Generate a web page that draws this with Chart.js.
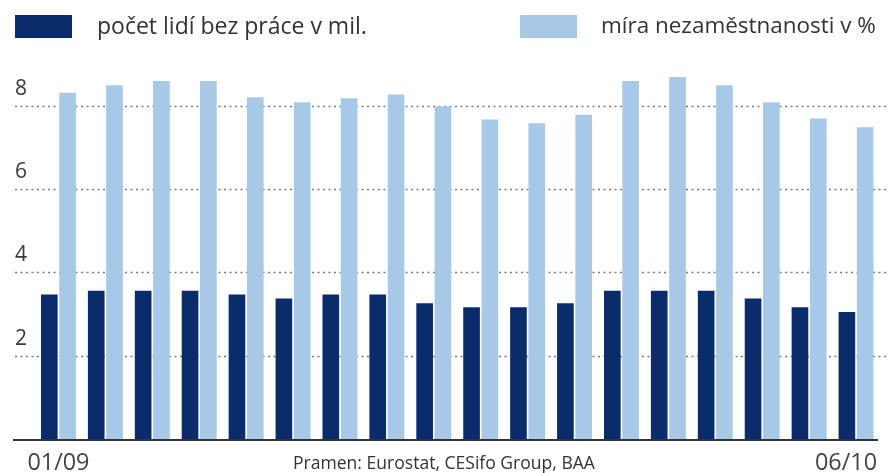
<!DOCTYPE html>
<html>
<head>
<meta charset="utf-8">
<script src="https://cdn.jsdelivr.net/npm/chart.js@4/dist/chart.umd.min.js"></script>
<style>
html,body{margin:0;padding:0;background:#fff;}
#wrap{width:888px;height:473px;position:relative;}
</style>
</head>
<body>
<div id="wrap"><canvas id="c" width="888" height="473"></canvas></div>
<script>
const categories = ["01/09","02/09","03/09","04/09","05/09","06/09","07/09","08/09","09/09","10/09","11/09","12/09","01/10","02/10","03/10","04/10","05/10","06/10"];
const unemployedMil = [3.47,3.56,3.56,3.56,3.47,3.37,3.47,3.47,3.26,3.16,3.16,3.26,3.56,3.56,3.56,3.37,3.16,3.05];
const unemploymentRate = [8.31,8.49,8.59,8.59,8.20,8.08,8.18,8.27,7.98,7.67,7.58,7.78,8.59,8.69,8.49,8.08,7.69,7.48];
const yTicks = [2,4,6,8];
const seriesNames = ["počet lidí bez práce v mil.","míra nezaměstnanosti v %"];
const sourceText = "Pramen: Eurostat, CESifo Group, BAA";

const DARK = "#0b2c6b";
const LIGHT = "#a8c8e8";
const FONT = "'Open Sans', 'DejaVu Sans', sans-serif";

function fitFont(ctx, text, width, base) {
  let size = base;
  ctx.font = size + "px " + FONT;
  const w = ctx.measureText(text).width;
  size = base * width / w;
  return size;
}

const decor = {
  id: 'decor',
  beforeDatasetsDraw(chart) {
    const ctx = chart.ctx;
    const y = chart.scales.y;
    ctx.save();
    ctx.strokeStyle = "#7a7a7a";
    ctx.lineWidth = 1.3;
    ctx.setLineDash([2, 3.5]);
    yTicks.forEach(v => {
      const py = Math.round(y.getPixelForValue(v)) + 0.5;
      ctx.beginPath();
      ctx.moveTo(15, py);
      ctx.lineTo(888, py);
      ctx.stroke();
    });
    ctx.setLineDash([]);
    ctx.fillStyle = "#3a3a3a";
    ctx.font = "21px " + FONT;
    ctx.textAlign = "left";
    ctx.textBaseline = "middle";
    yTicks.forEach(v => {
      const py = y.getPixelForValue(v);
      ctx.fillText(String(v), 15, py - 17);
    });
    ctx.restore();
  },
  afterDatasetsDraw(chart) {
    const ctx = chart.ctx;
    const y = chart.scales.y;
    const x = chart.scales.x;
    ctx.save();
    // baseline
    const by = y.getPixelForValue(0) + 1;
    ctx.strokeStyle = "#333";
    ctx.lineWidth = 1.8;
    ctx.beginPath();
    ctx.moveTo(13, by);
    ctx.lineTo(878, by);
    ctx.stroke();
    // x labels
    ctx.fillStyle = "#444";
    ctx.textBaseline = "middle";
    let fs = fitFont(ctx, categories[0], 62, 20);
    ctx.font = fs + "px " + FONT;
    ctx.textAlign = "center";
    ctx.fillText(categories[0], x.getPixelForValue(0), 463);
    ctx.textAlign = "right";
    ctx.fillText(categories[categories.length - 1], 877, 463);
    // source
    fs = fitFont(ctx, sourceText, 302, 15);
    ctx.font = fs + "px " + FONT;
    ctx.textAlign = "center";
    ctx.fillStyle = "#333";
    ctx.fillText(sourceText, 444, 464);
    // legend
    const legend = [
      {color: DARK, box: [15, 15, 57, 23], text: seriesNames[0], tx: 97, tw: 270},
      {color: LIGHT, box: [520, 15, 57, 23], text: seriesNames[1], tx: 601, tw: 275}
    ];
    legend.forEach(l => {
      ctx.fillStyle = l.color;
      ctx.fillRect(l.box[0], l.box[1], l.box[2], l.box[3]);
      const f = fitFont(ctx, l.text, l.tw, 19);
      ctx.font = f + "px " + FONT;
      ctx.fillStyle = "#333";
      ctx.textAlign = "left";
      ctx.textBaseline = "middle";
      ctx.fillText(l.text, l.tx, 27);
    });
    ctx.restore();
  }
};

new Chart(document.getElementById('c'), {
  type: 'bar',
  data: {
    labels: categories,
    datasets: [
      {label: seriesNames[0], data: unemployedMil, backgroundColor: DARK, borderWidth: 0},
      {label: seriesNames[1], data: unemploymentRate, backgroundColor: LIGHT, borderWidth: 0}
    ]
  },
  options: {
    responsive: false,
    animation: false,
    events: [],
    layout: {padding: {left: 35, right: 8.5, top: 64, bottom: 34}},
    datasets: {bar: {categoryPercentage: 0.78, barPercentage: 0.91}},
    plugins: {legend: {display: false}, tooltip: {enabled: false}, title: {display: false}},
    scales: {
      x: {display: false, offset: true},
      y: {display: false, min: 0, max: 9}
    }
  },
  plugins: [decor]
});
</script>
</body>
</html>
